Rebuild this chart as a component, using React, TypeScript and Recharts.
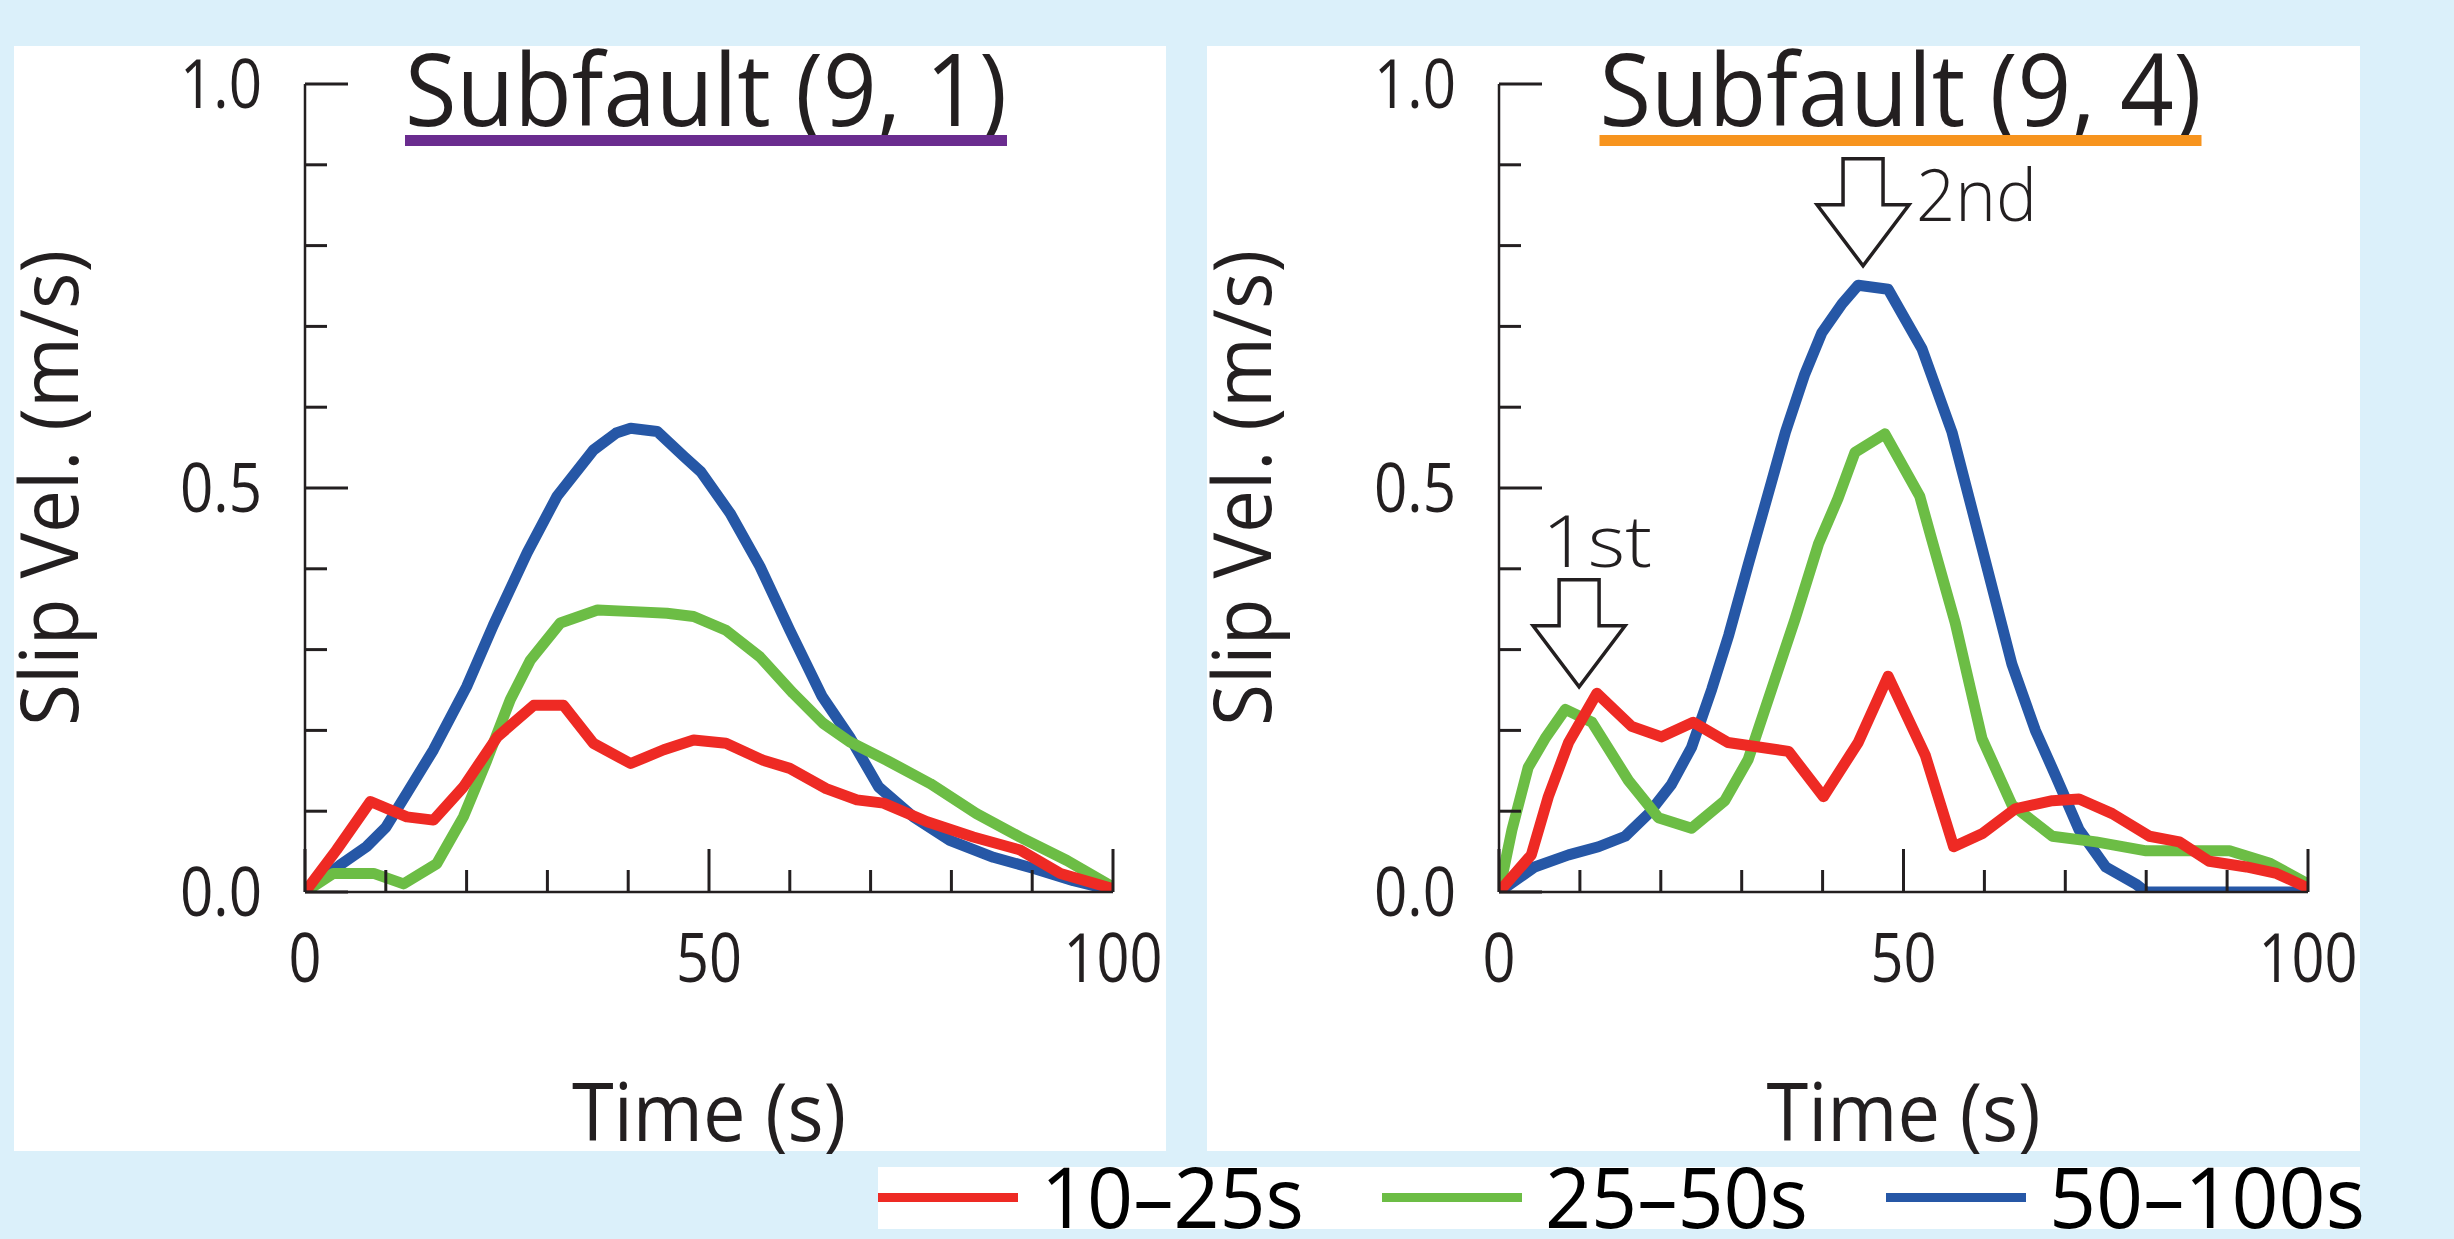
import React from 'react';
import { LineChart, Line, XAxis, YAxis, ReferenceDot } from 'recharts';

// ---------- axes ----------
const xTicks = [0, 10, 20, 30, 40, 50, 60, 70, 80, 90, 100];
const yTicks = [0, 0.1, 0.2, 0.3, 0.4, 0.5, 0.6, 0.7, 0.8, 0.9, 1.0];

// ---------- series ----------
const seriesNames = ['10–25s', '25–50s', '50–100s'];
const seriesColors = ['#EE2A24', '#6CBD45', '#2657A6'];

// Subfault (9, 1)
const sf1RedT = [0, 3.9, 8.1, 12.6, 15.9, 19.6, 23.8, 28.3, 32, 35.7, 40.3, 44.4, 48.1, 52.1, 56.7, 60, 64.5, 68.3, 71.6, 77, 82.7, 88.5, 93.5, 100];
const sf1RedV = [0, 0.052, 0.112, 0.093, 0.089, 0.13, 0.192, 0.231, 0.231, 0.184, 0.159, 0.176, 0.188, 0.184, 0.163, 0.153, 0.128, 0.114, 0.11, 0.087, 0.068, 0.052, 0.023, 0.004];
const sf1GreenT = [0, 3.5, 8.5, 12.2, 16.3, 19.6, 22.5, 25.4, 27.9, 31.6, 36.2, 40.7, 44.8, 48.1, 52.1, 56.3, 60.4, 64.1, 67.4, 72, 77.4, 83.1, 88.5, 94.3, 100];
const sf1GreenV = [0, 0.023, 0.023, 0.01, 0.035, 0.093, 0.163, 0.238, 0.287, 0.333, 0.349, 0.347, 0.345, 0.341, 0.324, 0.291, 0.246, 0.209, 0.186, 0.163, 0.134, 0.097, 0.068, 0.039, 0.006];
const sf1BlueT = [0, 4.3, 7.6, 10, 12.6, 15.9, 20, 23.3, 27.5, 31.2, 35.7, 38.5, 40.3, 43.6, 46.9, 49, 52.6, 56.3, 60, 64, 67.4, 71, 75.3, 79.8, 85.2, 90.2, 95.1, 100];
const sf1BlueV = [0, 0.033, 0.056, 0.08, 0.122, 0.176, 0.254, 0.33, 0.42, 0.49, 0.547, 0.568, 0.574, 0.57, 0.539, 0.52, 0.469, 0.403, 0.324, 0.242, 0.192, 0.13, 0.093, 0.064, 0.043, 0.029, 0.014, 0.002];

// Subfault (9, 4)
const sf4RedT = [0, 4, 6.1, 8.6, 12.1, 16.4, 20.1, 24, 28.3, 35.8, 40.1, 44.4, 48.1, 52.7, 56.2, 59.7, 63.8, 68.4, 71.7, 75.8, 80.4, 84.1, 87.8, 92.4, 96.1, 100];
const sf4RedV = [0, 0.046, 0.118, 0.185, 0.246, 0.205, 0.192, 0.21, 0.185, 0.174, 0.118, 0.185, 0.267, 0.169, 0.056, 0.072, 0.103, 0.113, 0.115, 0.097, 0.069, 0.062, 0.038, 0.031, 0.023, 0.005];
const sf4GreenT = [0, 1.6, 3.6, 5.7, 8.2, 11.5, 16, 19.7, 23.8, 27.9, 30.8, 33.7, 36.6, 39.5, 41.9, 44, 47.7, 52, 53.5, 56.4, 59.7, 63.4, 68.4, 73.8, 80, 90.3, 95.2, 100];
const sf4GreenV = [0, 0.077, 0.154, 0.19, 0.226, 0.21, 0.138, 0.092, 0.079, 0.113, 0.164, 0.251, 0.338, 0.431, 0.487, 0.544, 0.567, 0.49, 0.436, 0.333, 0.19, 0.108, 0.069, 0.062, 0.051, 0.051, 0.036, 0.01];
const sf4BlueT = [0, 4.4, 8.6, 12.3, 15.6, 18.5, 21.3, 23.8, 26.3, 28.4, 30.8, 33.7, 35.4, 37.8, 39.9, 42.4, 44.4, 48.1, 52.3, 56, 59.7, 63.4, 66.3, 68.8, 71.7, 75, 78.7, 80, 90, 100];
const sf4BlueV = [0, 0.031, 0.046, 0.056, 0.069, 0.097, 0.133, 0.179, 0.251, 0.318, 0.405, 0.508, 0.569, 0.641, 0.692, 0.728, 0.751, 0.746, 0.672, 0.569, 0.426, 0.282, 0.2, 0.144, 0.077, 0.031, 0.01, 0, 0, 0];

// annotations (Subfault (9, 4))
const annotationLabels = ['1st', '2nd'];
const annotationT = [9.9, 45];
const annotationV = [0.254, 0.775];

const panelTitles = ['Subfault (9, 1)', 'Subfault (9, 4)'];
const titleColors = ['#6A2C8F', '#F7941E'];
const xLabel = 'Time (s)';
const yLabel = 'Slip Vel. (m/s)';

// ---------- helpers ----------
const toPts = (t: number[], v: number[]) => t.map((tt, i) => ({ t: tt, v: v[i] }));

const panel1Series = [toPts(sf1RedT, sf1RedV), toPts(sf1GreenT, sf1GreenV), toPts(sf1BlueT, sf1BlueV)];
const panel4Series = [toPts(sf4RedT, sf4RedV), toPts(sf4GreenT, sf4GreenV), toPts(sf4BlueT, sf4BlueV)];

const INK = '#231F20';
const FONT = "'Open Sans', 'Noto Sans', sans-serif";
const BG = '#DBF0FA';

const PANEL_TOP = 46;
const PANEL_H = 1105;
const PLOT_TOP = 38;
const PLOT_SIZE = 808;
const YAXIS_W = 100;
const XAXIS_H = 100;

const isMajor = (v: number, step: number) => Math.abs(v / step - Math.round(v / step)) < 1e-9;

const XTick = (props: any) => {
  const { x, y, payload } = props;
  const v = payload.value as number;
  const major = isMajor(v, 50);
  const s = String(v);
  return (
    <g>
      <line x1={x} y1={y} x2={x} y2={y - (major ? 43 : 22)} stroke={INK} strokeWidth={3} />
      {major && (
        <text x={x} y={y + 90} textAnchor="middle" fontFamily={FONT} fontSize={67} fill={INK}
          textLength={s.length * 33} lengthAdjust="spacingAndGlyphs">{s}</text>
      )}
    </g>
  );
};

const YTick = (props: any) => {
  const { x, y, payload } = props;
  const v = payload.value as number;
  const major = isMajor(v, 0.5);
  const s = v.toFixed(1);
  return (
    <g>
      <line x1={x} y1={y} x2={x + (major ? 43 : 22)} y2={y} stroke={INK} strokeWidth={3} />
      {major && (
        <text x={x - 43} y={y + 24} textAnchor="end" fontFamily={FONT} fontSize={67} fill={INK}
          textLength={82} lengthAdjust="spacingAndGlyphs">{s}</text>
      )}
    </g>
  );
};

const makeArrow = (label: string) => (props: any) => {
  const { cx, cy } = props;
  if (cx == null || cy == null) return <g />;
  const sw = 20, hw = 46, headTop = 61, shaftTop = 107;
  const pts = [
    [cx - sw, cy - shaftTop], [cx + sw, cy - shaftTop], [cx + sw, cy - headTop], [cx + hw, cy - headTop],
    [cx, cy], [cx - hw, cy - headTop], [cx - sw, cy - headTop],
  ].map((p) => p.join(',')).join(' ');
  const side = label === '2nd';
  return (
    <g>
      <polygon points={pts} fill="#FFFFFF" stroke={INK} strokeWidth={3.5} strokeLinejoin="miter" />
      {side ? (
        <text x={cx + 53} y={cy - 45} textAnchor="start" fontFamily={FONT} fontWeight={300} fontSize={72}
          fill={INK} textLength={121} lengthAdjust="spacingAndGlyphs">{label}</text>
      ) : (
        <text x={cx + 18} y={cy - 120} textAnchor="middle" fontFamily={FONT} fontWeight={300} fontSize={72}
          fill={INK} textLength={110} lengthAdjust="spacingAndGlyphs">{label}</text>
      )}
    </g>
  );
};

type PanelProps = {
  left: number;
  width: number;
  plotLeft: number;
  plotWidth: number;
  title: string;
  titleColor: string;
  series: { t: number; v: number }[][];
  annotate?: boolean;
};

const Panel = ({ left, width, plotLeft, plotWidth, title, titleColor, series, annotate }: PanelProps) => {
  const cxPlot = plotLeft + plotWidth / 2;
  const cyPlot = PLOT_TOP + PLOT_SIZE / 2;
  return (
    <div style={{ position: 'absolute', left, top: PANEL_TOP, width, height: PANEL_H, background: '#FFFFFF' }}>
      <LineChart
        width={width}
        height={PANEL_H}
        style={{ overflow: 'visible' }}
        margin={{ top: PLOT_TOP, left: plotLeft - YAXIS_W, right: width - plotLeft - plotWidth, bottom: PANEL_H - PLOT_TOP - PLOT_SIZE - XAXIS_H }}
      >
        <XAxis
          type="number"
          dataKey="t"
          domain={[0, 100]}
          ticks={xTicks}
          interval={0}
          height={XAXIS_H}
          tickSize={0}
          tickMargin={0}
          tickLine={false}
          axisLine={{ stroke: INK, strokeWidth: 2.5 }}
          tick={<XTick />}
          allowDataOverflow
        />
        <YAxis
          type="number"
          domain={[0, 1]}
          ticks={yTicks}
          interval={0}
          width={YAXIS_W}
          tickSize={0}
          tickMargin={0}
          tickLine={false}
          axisLine={{ stroke: INK, strokeWidth: 2.5 }}
          tick={<YTick />}
          allowDataOverflow
        />
        {[2, 1, 0].map((i) => (
          <Line
            key={seriesNames[i]}
            data={series[i]}
            dataKey="v"
            name={seriesNames[i]}
            type="linear"
            stroke={seriesColors[i]}
            strokeWidth={11}
            strokeLinejoin="round"
            strokeLinecap="round"
            dot={false}
            activeDot={false}
            isAnimationActive={false}
          />
        ))}
        {annotate &&
          annotationLabels.map((lab, i) => (
            <ReferenceDot key={lab} x={annotationT[i]} y={annotationV[i]} r={0} shape={makeArrow(lab)} ifOverflow="visible" />
          ))}
      </LineChart>
      <svg width={width} height={PANEL_H} style={{ position: 'absolute', left: 0, top: 0, pointerEvents: 'none', overflow: 'visible' }}>
        <text x={cxPlot - 3} y={80} textAnchor="middle" fontFamily={FONT} fontSize={100} fill={INK}
          textLength={602} lengthAdjust="spacingAndGlyphs">{title}</text>
        <rect x={cxPlot - 3 - 301} y={89} width={602} height={11} fill={titleColor} />
        <text x={cxPlot} y={1095} textAnchor="middle" fontFamily={FONT} fontSize={81} fill={INK}
          textLength={274} lengthAdjust="spacingAndGlyphs">{xLabel}</text>
        <text x={64} y={cyPlot} transform={`rotate(-90, 64, ${cyPlot})`} textAnchor="middle" fontFamily={FONT}
          fontSize={80} fill={INK} textLength={476} lengthAdjust="spacingAndGlyphs">{yLabel}</text>
      </svg>
    </div>
  );
};

const Legend = () => {
  const itemX = [878, 1382, 1886];
  const textLen = [263, 263, 316];
  return (
    <div style={{ position: 'absolute', left: 878, top: 1167, width: 1482, height: 62, background: '#FFFFFF' }}>
      <svg width={1482} height={62} style={{ overflow: 'visible' }}>
        {seriesNames.map((n, i) => {
          const x0 = itemX[i] - 878;
          return (
            <g key={n}>
              <rect x={x0} y={26} width={140} height={9} fill={seriesColors[i]} />
              <text x={x0 + 163} y={61} fontFamily={FONT} fontSize={84} fill="#000000"
                textLength={textLen[i]} lengthAdjust="spacingAndGlyphs">{n}</text>
            </g>
          );
        })}
      </svg>
    </div>
  );
};

export default function App() {
  return (
    <div style={{ position: 'absolute', left: 0, top: 0, width: 2454, height: 1239, background: BG, overflow: 'hidden' }}>
      <style>{'.recharts-surface, .recharts-wrapper { overflow: visible !important; }'}</style>
      <Panel left={14} width={1152} plotLeft={291} plotWidth={808} title={panelTitles[0]} titleColor={titleColors[0]} series={panel1Series} />
      <Panel left={1207} width={1153} plotLeft={292} plotWidth={809} title={panelTitles[1]} titleColor={titleColors[1]} series={panel4Series} annotate />
      <Legend />
    </div>
  );
}
